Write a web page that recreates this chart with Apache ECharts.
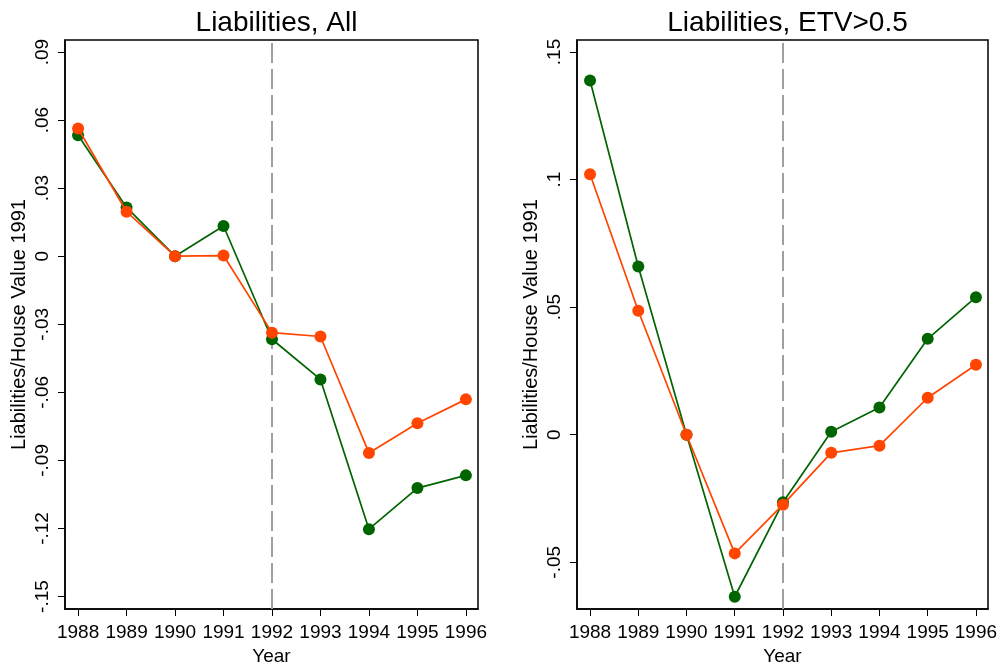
<!DOCTYPE html>
<html>
<head>
<meta charset="utf-8">
<script src="https://cdn.jsdelivr.net/npm/echarts@6/dist/echarts.min.js"></script>
<style>
  html, body { margin: 0; padding: 0; background: #fff; }
  #chart { width: 1003px; height: 666px; }
</style>
</head>
<body>
<div id="chart"></div>
<script>
const years = [1988, 1989, 1990, 1991, 1992, 1993, 1994, 1995, 1996]

// Liabilities, All
const allGreen = [0.0533, 0.0215, 0, 0.0133, -0.0366, -0.0543, -0.1203, -0.1022, -0.0966]
const allOrange = [0.0563, 0.0196, 0, 0.0003, -0.0337, -0.0354, -0.0867, -0.0736, -0.0631]
const allTicks = [-0.15, -0.12, -0.09, -0.06, -0.03, 0, 0.03, 0.06, 0.09]

// Liabilities, ETV>0.5
const etvGreen = [0.1388, 0.0659, 0, -0.0635, -0.0265, 0.0012, 0.0107, 0.0376, 0.0539]
const etvOrange = [0.1021, 0.0486, 0, -0.0465, -0.0274, -0.0071, -0.0043, 0.0145, 0.0274]
const etvTicks = [-0.05, 0, 0.05, 0.1, 0.15]

const policyYear = 1992

const GREEN = '#006400'
const ORANGE = '#ff4500'
const FONT = 'Liberation Sans, Arial, sans-serif'

const fmtY = (v) => {
  if (Math.abs(v) < 1e-9) return '0'
  const s = parseFloat(Math.abs(v).toFixed(2)).toString().replace(/^0/, '')
  return (v < 0 ? '-' : '') + s
}

const pairs = (ys) => years.map((y, i) => [y, ys[i]])

const makeX = (gridIndex) => ({
  type: 'value',
  gridIndex,
  min: 1987.73,
  max: 1996.25,
  name: 'Year',
  nameLocation: 'middle',
  nameGap: 38,
  nameTextStyle: { color: '#000', fontSize: 19, fontFamily: FONT },
  axisLine: { onZero: false, lineStyle: { color: '#000', width: 1.5 } },
  axisTick: { customValues: years, length: 7, lineStyle: { color: '#000', width: 1 } },
  axisLabel: {
    customValues: years,
    formatter: (v) => String(v),
    color: '#000',
    fontSize: 19,
    fontFamily: FONT,
    margin: 14,
  },
  splitLine: { show: false },
})

const makeY = (gridIndex, min, max, ticks) => ({
  type: 'value',
  gridIndex,
  min,
  max,
  name: 'Liabilities/House Value 1991',
  nameLocation: 'middle',
  nameGap: 36,
  nameTextStyle: { color: '#000', fontSize: 20, fontFamily: FONT },
  axisLine: { onZero: false, lineStyle: { color: '#000', width: 1.5 } },
  axisTick: { customValues: ticks, length: 7, lineStyle: { color: '#000', width: 1 } },
  axisLabel: {
    customValues: ticks,
    formatter: fmtY,
    rotate: 90,
    color: '#000',
    fontSize: 19,
    fontFamily: FONT,
    margin: 13,
  },
  splitLine: { show: false },
})

const lineSeries = (name, idx, data, color, z) => ({
  name,
  type: 'line',
  xAxisIndex: idx,
  yAxisIndex: idx,
  data: pairs(data),
  symbol: 'circle',
  symbolSize: 12,
  z,
  lineStyle: { color, width: 1.7 },
  itemStyle: { color },
  animation: false,
})

const dashSeries = (idx) => ({
  type: 'line',
  xAxisIndex: idx,
  yAxisIndex: idx,
  data: [],
  z: 1,
  markLine: {
    silent: true,
    symbol: 'none',
    label: { show: false },
    z: 1,
    lineStyle: { color: '#a0a0a0', type: [20, 6], width: 2 },
    data: [{ xAxis: policyYear }],
  },
  animation: false,
})

const chart = echarts.init(document.getElementById('chart'), null, { renderer: 'canvas' })

const gridBase = {
  top: 40,
  height: 569,
  show: true,
  borderColor: '#000',
  borderWidth: 1.5,
  backgroundColor: '#fff',
  containLabel: false,
  outerBoundsMode: 'none',
}

chart.setOption({
  backgroundColor: '#fff',
  animation: false,
  title: [
    {
      text: 'Liabilities, All',
      left: 271.5,
      top: 4,
      textAlign: 'center',
      textStyle: { color: '#000', fontSize: 28, fontWeight: 'normal', fontFamily: FONT },
    },
    {
      text: 'Liabilities, ETV>0.5',
      left: 782.5,
      top: 4,
      textAlign: 'center',
      textStyle: { color: '#000', fontSize: 28, fontWeight: 'normal', fontFamily: FONT },
    },
  ],
  grid: [
    { ...gridBase, left: 65, width: 413 },
    { ...gridBase, left: 577, width: 411 },
  ],
  xAxis: [makeX(0), makeX(1)],
  yAxis: [makeY(0, -0.1555, 0.0953, allTicks), makeY(1, -0.0683, 0.1547, etvTicks)],
  series: [
    dashSeries(0),
    lineSeries('Green', 0, allGreen, GREEN, 2),
    lineSeries('Orange', 0, allOrange, ORANGE, 3),
    dashSeries(1),
    lineSeries('Green', 1, etvGreen, GREEN, 2),
    lineSeries('Orange', 1, etvOrange, ORANGE, 3),
  ],
})
</script>
</body>
</html>
